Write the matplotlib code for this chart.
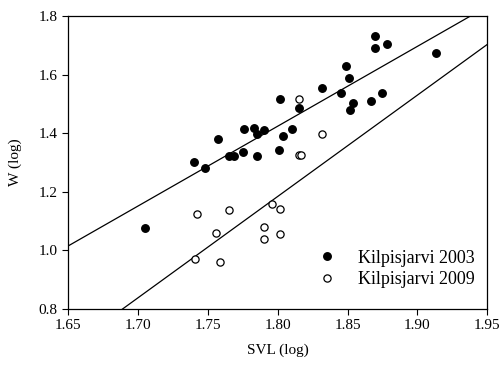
import numpy as np
import matplotlib
matplotlib.use("Agg")
import matplotlib.pyplot as plt

# Kilpisjarvi 2003 (filled)
svl_2003 = [1.705, 1.740, 1.748, 1.757, 1.765, 1.769, 1.775, 1.776, 1.783, 1.785,
            1.785, 1.790, 1.801, 1.802, 1.804, 1.810, 1.815, 1.832, 1.845, 1.849,
            1.851, 1.852, 1.854, 1.867, 1.870, 1.870, 1.875, 1.878, 1.913]
w_2003 = [1.076, 1.300, 1.280, 1.380, 1.323, 1.323, 1.335, 1.413, 1.417, 1.396,
          1.321, 1.411, 1.344, 1.516, 1.391, 1.414, 1.485, 1.553, 1.538, 1.630,
          1.589, 1.480, 1.503, 1.510, 1.690, 1.732, 1.538, 1.703, 1.674]

# Kilpisjarvi 2009 (open)
svl_2009 = [1.815, 1.832, 1.815, 1.817, 1.796, 1.802, 1.790, 1.790, 1.802, 1.742,
            1.765, 1.756, 1.741, 1.759]
w_2009 = [1.518, 1.396, 1.325, 1.326, 1.157, 1.142, 1.081, 1.040, 1.055, 1.125,
          1.138, 1.058, 0.970, 0.961]

# regression lines (slope, intercept)
fit_2003 = (2.726, -3.483)
fit_2009 = (3.46, -5.044)

x_ticks = [1.65, 1.70, 1.75, 1.80, 1.85, 1.90, 1.95]
y_ticks = [0.8, 1.0, 1.2, 1.4, 1.6, 1.8]

plt.rcParams['font.family'] = ['Liberation Serif', 'DejaVu Serif']

fig = plt.figure(figsize=(5.03, 3.71), dpi=100)
ax = fig.add_axes([0.1352, 0.1671, 0.8336, 0.7898])

xs = np.linspace(1.65, 1.95, 200)
ax.plot(xs, fit_2003[0] * xs + fit_2003[1], color='black', lw=0.9)
ax.plot(xs, fit_2009[0] * xs + fit_2009[1], color='black', lw=0.9)

ax.plot(svl_2003, w_2003, 'o', color='black', ms=5.4, label='Kilpisjarvi 2003')
ax.plot(svl_2009, w_2009, 'o', mfc='white', mec='black', mew=0.9, ms=5.2,
        label='Kilpisjarvi 2009')

ax.set_xlim(1.65, 1.95)
ax.set_ylim(0.8, 1.8)
ax.set_xticks(x_ticks)
ax.set_xticklabels(['%.2f' % t for t in x_ticks])
ax.set_yticks(y_ticks)
ax.set_yticklabels(['%.1f' % t for t in y_ticks])
ax.tick_params(direction='out', length=4, width=0.8, labelsize=11)
for s in ax.spines.values():
    s.set_linewidth(0.9)

ax.set_xlabel('SVL (log)', fontsize=11, labelpad=8)
ax.set_ylabel('W (log)', fontsize=11, labelpad=12)

ax.legend(loc='lower right', bbox_to_anchor=(1.014, 0.01), frameon=False,
          fontsize=13, handletextpad=1.0, handlelength=1.5,
          borderaxespad=0.6, labelspacing=0.25)

fig.savefig('out.png', dpi=100)
